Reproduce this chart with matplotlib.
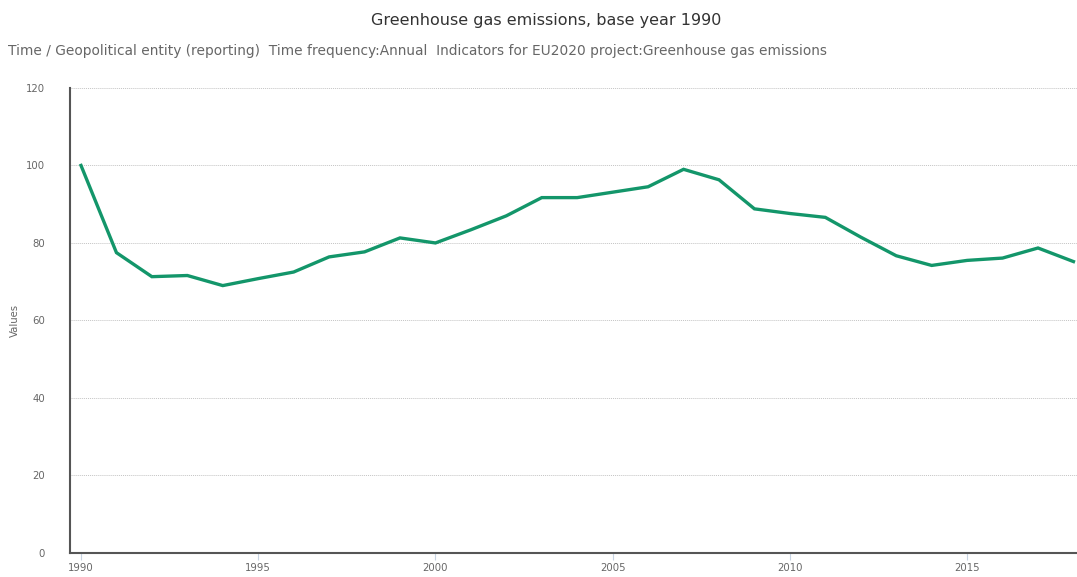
import matplotlib
matplotlib.use("Agg")
import matplotlib.pyplot as plt

plt.rcParams["font.family"] = ["DejaVu Sans"]

# Greenhouse gas emissions index (1990 = 100)
years = list(range(1990, 2019))
values = [100.0, 77.5, 71.3, 71.6, 69.0, 70.8, 72.5, 76.4, 77.7, 81.3,
          80.0, 83.4, 87.0, 91.7, 91.7, 93.1, 94.5, 99.0, 96.3, 88.8,
          87.6, 86.6, 81.5, 76.7, 74.2, 75.5, 76.1, 78.7, 75.2]
xticks = [1990, 1995, 2000, 2005, 2010, 2015]
yticks = [0, 20, 40, 60, 80, 100, 120]

title = "Greenhouse gas emissions, base year 1990"
subtitle = ("Time / Geopolitical entity (reporting)  Time frequency:Annual  "
            "Indicators for EU2020 project:Greenhouse gas emissions")

fig = plt.figure(figsize=(10.77, 5.77), dpi=100)
ax = fig.add_axes([0.065, 0.0416, 0.935, 0.806])

ax.plot(years, values, color="#13966a", linewidth=2.4, solid_joinstyle="miter")

ax.set_xlim(1989.69, 2018.1)
ax.set_ylim(0, 120)
ax.set_xticks(xticks)
ax.set_yticks(yticks)

# Grid: dotted horizontal lines
ax.yaxis.grid(True, linestyle=(0, (1, 1)), color="#c4c4c4", linewidth=0.7)
ax.set_axisbelow(True)

for side in ["top", "right"]:
    ax.spines[side].set_visible(False)
ax.spines["left"].set_color("#555555")
ax.spines["left"].set_linewidth(1.5)
ax.spines["bottom"].set_color("#555555")
ax.spines["bottom"].set_linewidth(1.5)

ax.tick_params(axis="y", length=0, pad=18, labelsize=7.3, labelcolor="#666666")
ax.tick_params(axis="x", length=5, width=0.8, color="#c8d4e3", pad=2,
               labelsize=7.3, labelcolor="#666666")

ax.set_ylabel("Values", fontsize=7.3, color="#666666", labelpad=4)

fig.text(0.507, 0.965, title, ha="center", va="center", fontsize=11.5, color="#333333")
fig.text(0.007, 0.912, subtitle, ha="left", va="center", fontsize=9.9, color="#666666")

fig.savefig("out.png", dpi=100)
